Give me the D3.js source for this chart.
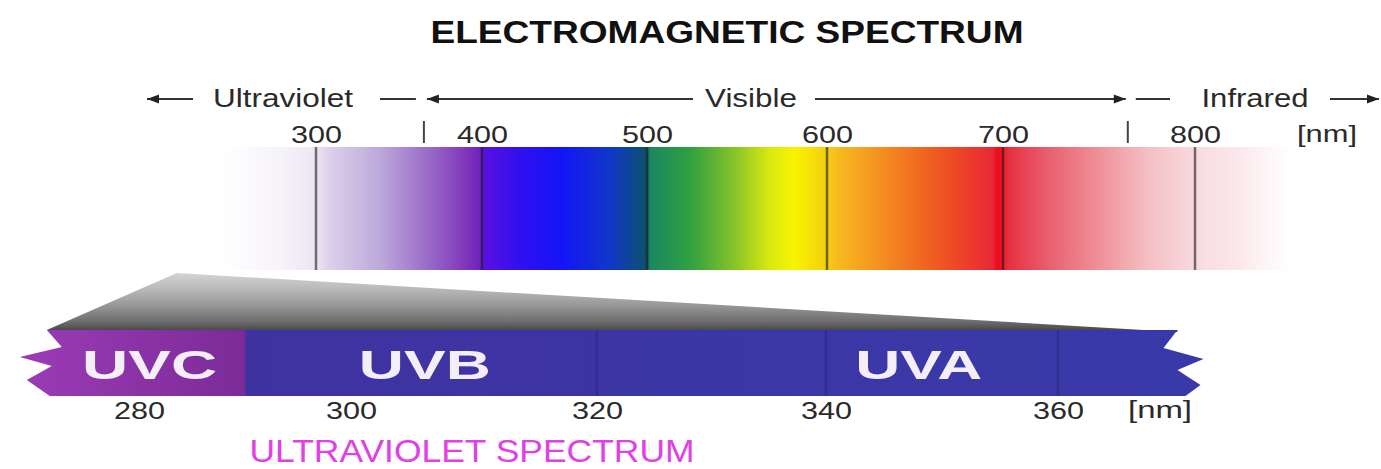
<!DOCTYPE html>
<html>
<head>
<meta charset="utf-8">
<script src="https://cdn.jsdelivr.net/npm/d3@7/dist/d3.min.js"></script>
<style>
  html, body { margin: 0; padding: 0; background: #ffffff; }
  svg { display: block; }
  text { font-family: "Liberation Sans", Arial, Helvetica, sans-serif; }
</style>
</head>
<body>
<svg id="chart" width="1381" height="469"></svg>
<script>
// ---------------- DATA ----------------
const chartTitle = "ELECTROMAGNETIC SPECTRUM";
const uvTitle = "ULTRAVIOLET SPECTRUM";
const unitLabel = "[nm]";

// top spectrum
const topTicks = [300, 400, 500, 600, 700, 800];
const regionNames = ["Ultraviolet", "Visible", "Infrared"];
const regionBounds = [365, 765];          // nm, UV | Visible | IR separators
const spectrumNm = [243, 278, 300, 308, 339, 369, 393, 399, 401, 423, 448, 478, 499, 502, 524, 549, 568, 582, 599, 607, 630, 658, 678, 694, 697, 703, 724, 750, 776, 800, 823, 849];
const spectrumColors = ["#ffffff", "#f6f3f9", "#ece6f3", "#dcd0ea", "#bca8da", "#9868c8", "#7c30b8", "#7020c0", "#5a10e0", "#3010f0", "#1414f8", "#1038c8", "#0e5070", "#1a8860", "#30a040", "#88c428", "#d8e810", "#f8f400", "#f4d010", "#f8b820", "#f49020", "#f06020", "#ec4028", "#e82838", "#f00818", "#e83040", "#e86070", "#f09098", "#f4c0c4", "#f8dadf", "#fbe8ec", "#ffffff"];

// UV band
const uvTicks = [280, 300, 320, 340, 360];
const uvBandNames = ["UVC", "UVB", "UVA"];
const uvBandEdges = [271.3, 290, 320, 370.3];
const uvBandColorsStart = ["#9c3cb6", "#3f33a1", "#3c36a5"];
const uvBandColorsEnd = ["#7c2b98", "#3d34a3", "#3a39a9"];
const uvDividers = [320, 340, 360];
const uvLabelNm = [281, 306, 348];

// ---------------- LAYOUT ----------------
const svg = d3.select("#chart");
const defs = svg.append("defs");
const fontColor = "#2a2a2a";

const xTop = d3.scaleLinear().domain(topTicks).range([316, 482, 647, 827, 1003, 1195]);
const xUV = d3.scaleLinear().domain(uvTicks).range([139, 351, 597, 826, 1058]);

const barTop = 147, barBottom = 270;
const arrowY = 99;
const bandTop = 330, bandBottom = 396;

// title
svg.append("text")
  .attr("x", 727).attr("y", 43)
  .attr("text-anchor", "middle")
  .attr("font-size", 31).attr("font-weight", "bold")
  .attr("fill", "#111")
  .attr("textLength", 593).attr("lengthAdjust", "spacingAndGlyphs")
  .text(chartTitle);

// ---- spectrum gradient bar ----
const x0 = xTop(spectrumNm[0]), x1 = xTop(spectrumNm[spectrumNm.length - 1]);
const sg = defs.append("linearGradient").attr("id", "spec")
  .attr("gradientUnits", "userSpaceOnUse")
  .attr("x1", x0).attr("x2", x1).attr("y1", 0).attr("y2", 0);
sg.selectAll("stop").data(spectrumNm).join("stop")
  .attr("offset", d => (xTop(d) - x0) / (x1 - x0))
  .attr("stop-color", (d, i) => spectrumColors[i]);

svg.append("rect")
  .attr("x", x0).attr("y", barTop)
  .attr("width", x1 - x0).attr("height", barBottom - barTop)
  .attr("fill", "url(#spec)");

svg.append("g").selectAll("line").data(topTicks).join("line")
  .attr("x1", d => xTop(d)).attr("x2", d => xTop(d))
  .attr("y1", barTop).attr("y2", barBottom)
  .attr("stroke", "#1a1a1a").attr("stroke-opacity", 0.6).attr("stroke-width", 2.5);

// top tick labels via axis
const topAxis = svg.append("g")
  .attr("transform", `translate(0,${143})`)
  .call(d3.axisTop(xTop).tickValues(topTicks).tickSize(0).tickPadding(0).tickFormat(d3.format("d")));
topAxis.select(".domain").remove();
topAxis.selectAll("text")
  .attr("font-size", 24).attr("fill", fontColor)
  .attr("font-family", "Liberation Sans, Arial, sans-serif")
  .attr("dy", 0).attr("y", 0)
  .attr("textLength", 51).attr("lengthAdjust", "spacingAndGlyphs");

svg.append("text")
  .attr("x", 1327).attr("y", 142).attr("text-anchor", "middle")
  .attr("font-size", 24).attr("fill", fontColor)
  .attr("textLength", 60).attr("lengthAdjust", "spacingAndGlyphs")
  .text(unitLabel);

// separators
svg.append("g").selectAll("line").data(regionBounds).join("line")
  .attr("x1", d => xTop(d)).attr("x2", d => xTop(d))
  .attr("y1", 121).attr("y2", 143)
  .attr("stroke", "#444").attr("stroke-width", 2);

// ---- region arrows ----
const sepL = xTop(regionBounds[0]), sepR = xTop(regionBounds[1]);
const regionLabelX = [283, 751, 1255];
const regionLabelW = [140, 92, 107];
svg.append("g").selectAll("text").data(regionNames).join("text")
  .attr("x", (d, i) => regionLabelX[i]).attr("y", 107)
  .attr("text-anchor", "middle")
  .attr("font-size", 25).attr("fill", fontColor)
  .attr("textLength", (d, i) => regionLabelW[i]).attr("lengthAdjust", "spacingAndGlyphs")
  .text(d => d);

function arrowLine(xa, xb, headAt) {
  // line from xa to xb; headAt = "start" / "end" / null
  const g = svg.append("g");
  g.append("line").attr("x1", xa).attr("x2", xb).attr("y1", arrowY).attr("y2", arrowY)
    .attr("stroke", "#333").attr("stroke-width", 2);
  if (headAt) {
    const tip = headAt === "start" ? xa : xb;
    const dir = headAt === "start" ? 1 : -1;
    g.append("path")
      .attr("d", d3.line()([[tip, arrowY], [tip + dir * 12, arrowY - 4.5], [tip + dir * 12, arrowY + 4.5]]) + "Z")
      .attr("fill", "#222");
  }
}
arrowLine(147, 193, "start");
arrowLine(380, sepL - 8, null);
arrowLine(sepL + 3, 693, "start");
arrowLine(815, sepR - 2, "end");
arrowLine(sepR + 8, 1170, null);
arrowLine(1330, 1379, "end");

// ---- grey projection ----
const bL = xUV(uvBandEdges[0]), bR = xUV(uvBandEdges[uvBandEdges.length - 1]);
const gg = defs.append("linearGradient").attr("id", "greyproj")
  .attr("gradientUnits", "userSpaceOnUse")
  .attr("x1", 0).attr("x2", 0).attr("y1", barBottom + 3).attr("y2", bandTop);
[[0, "#d4d4d4"], [0.25, "#bcbcbc"], [0.55, "#9a9a9a"], [0.85, "#6e6e6e"], [1, "#4a4a4a"]]
  .forEach(s => gg.append("stop").attr("offset", s[0]).attr("stop-color", s[1]));
svg.append("path")
  .attr("d", d3.line()([[bL + 130, barBottom + 3], [bR, bandTop + 2], [bR, bandTop], [bL, bandTop]]) + "Z")
  .attr("fill", "url(#greyproj)");

// ---- UV band ----
const bg = defs.append("linearGradient").attr("id", "uvband")
  .attr("gradientUnits", "userSpaceOnUse")
  .attr("x1", bL - 30).attr("x2", bR + 30).attr("y1", 0).attr("y2", 0);
const span = (bR + 30) - (bL - 30);
uvBandNames.forEach((n, i) => {
  const a = (Math.max(xUV(uvBandEdges[i]), bL - 30) - (bL - 30)) / span;
  const b = (xUV(uvBandEdges[i + 1]) - (bL - 30)) / span;
  bg.append("stop").attr("offset", i === 0 ? 0 : a + 0.001).attr("stop-color", uvBandColorsStart[i]);
  bg.append("stop").attr("offset", i === uvBandNames.length - 1 ? 1 : b - 0.001).attr("stop-color", uvBandColorsEnd[i]);
});

const bandPts = [
  [bL, bandTop], [bL + 15, bandTop + 17], [bL - 27, bandTop + 27], [bL + 5, bandTop + 36],
  [bL - 20, bandTop + 50], [bL + 3, bandBottom],
  [bR + 8, bandBottom], [bR + 23, bandTop + 55], [bR, bandTop + 40], [bR + 26, bandTop + 29],
  [bR - 14, bandTop + 18], [bR, bandTop]
];
svg.append("path").attr("d", d3.line()(bandPts) + "Z").attr("fill", "url(#uvband)");

svg.append("g").selectAll("line").data(uvDividers).join("line")
  .attr("x1", d => xUV(d)).attr("x2", d => xUV(d))
  .attr("y1", bandTop).attr("y2", bandBottom)
  .attr("stroke", "#2a2680").attr("stroke-opacity", 0.55).attr("stroke-width", 2.5);

const bandLabelW = [135, 132, 127];
svg.append("g").selectAll("text").data(uvBandNames).join("text")
  .attr("x", (d, i) => xUV(uvLabelNm[i])).attr("y", 379)
  .attr("text-anchor", "middle")
  .attr("font-size", 41).attr("font-weight", "bold").attr("fill", "#f4eef8")
  .attr("textLength", (d, i) => bandLabelW[i]).attr("lengthAdjust", "spacingAndGlyphs")
  .text(d => d);

// bottom axis
const uvAxis = svg.append("g")
  .attr("transform", `translate(0,${419})`)
  .call(d3.axisBottom(xUV).tickValues(uvTicks).tickSize(0).tickPadding(0).tickFormat(d3.format("d")));
uvAxis.select(".domain").remove();
uvAxis.selectAll("text")
  .attr("font-size", 23).attr("fill", fontColor)
  .attr("font-family", "Liberation Sans, Arial, sans-serif")
  .attr("y", 0).attr("dy", 0)
  .attr("textLength", 51).attr("lengthAdjust", "spacingAndGlyphs");

svg.append("text")
  .attr("x", 1160).attr("y", 418).attr("text-anchor", "middle")
  .attr("font-size", 23).attr("fill", fontColor)
  .attr("textLength", 64).attr("lengthAdjust", "spacingAndGlyphs")
  .text(unitLabel);

svg.append("text")
  .attr("x", 472).attr("y", 462).attr("text-anchor", "middle")
  .attr("font-size", 32).attr("fill", "#e040e6")
  .attr("textLength", 445).attr("lengthAdjust", "spacingAndGlyphs")
  .text(uvTitle);
</script>
</body>
</html>
